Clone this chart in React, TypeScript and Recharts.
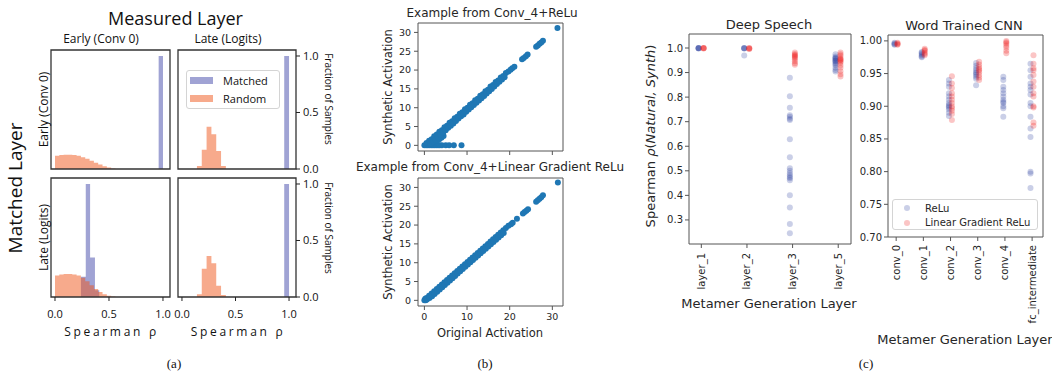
import React from 'react';
import {
  ComposedChart,
  ScatterChart,
  Area,
  Scatter,
  XAxis,
  YAxis,
  ReferenceArea,
  Legend,
} from 'recharts';

// ---------- fonts / colours ----------
const SANS_A = '"Open Sans", "Noto Sans", sans-serif';
const SANS = '"DejaVu Sans", sans-serif';
const SERIF = '"Liberation Serif", serif';
const INK = '#262626';
const FRAME_A = '#333';
const FRAME = '#555';

const MATCHED = '#4148a9';
const RANDOM = '#ef551a';
const HIST_LEGEND = ['Matched', 'Random'];
const HIST_COLORS = [MATCHED, RANDOM];

const SCATTER_BLUE = '#1f77b4';
const RELU = '#2c3fa0';
const LIN = '#f01818';
const STRIP_LEGEND = ['ReLu', 'Linear Gradient ReLu'];
const STRIP_COLORS = [RELU, LIN];

// ---------- (a) histograms of Spearman rho ----------
const HIST_X: [number, number] = [-0.037, 1.065];
const HIST_Y: [number, number] = [0, 1.053];
const HIST_TICKS = [0, 0.5, 1.0];

// matched early, measured early
const eeMatchedEdges = [0.96, 1.0];
const eeMatchedHeights = [1.0];
const eeRandomEdges = [0, 0.04, 0.08, 0.12, 0.16, 0.2, 0.24, 0.28, 0.32, 0.36, 0.4, 0.44, 0.48, 0.52, 0.56];
const eeRandomHeights = [0.118, 0.124, 0.127, 0.127, 0.124, 0.117, 0.105, 0.09, 0.072, 0.055, 0.04, 0.025, 0.013, 0.005];

// matched early, measured late
const elMatchedEdges = [0.955, 1.0];
const elMatchedHeights = [1.0];
const elRandomEdges = [0.14, 0.185, 0.23, 0.275, 0.32, 0.365, 0.41];
const elRandomHeights = [0.027, 0.17, 0.374, 0.307, 0.16, 0.027];

// matched late, measured early
const leMatchedEdges = [0.24, 0.285, 0.325, 0.37, 0.41];
const leMatchedHeights = [0.18, 1.0, 0.35, 0.06];
const leRandomEdges = [0, 0.04, 0.08, 0.12, 0.16, 0.2, 0.24, 0.28, 0.32, 0.36, 0.4, 0.44, 0.48, 0.52, 0.56];
const leRandomHeights = [0.19, 0.2, 0.203, 0.203, 0.2, 0.19, 0.17, 0.14, 0.105, 0.07, 0.045, 0.025, 0.012, 0.005];

// matched late, measured late
const llMatchedEdges = [0.955, 1.0];
const llMatchedHeights = [1.0];
const llRandomEdges = [0.14, 0.185, 0.23, 0.275, 0.32, 0.365, 0.41];
const llRandomHeights = [0.024, 0.25, 0.363, 0.298, 0.1, 0.018];

// ---------- (b) activation scatter ----------
const B_DOM: [number, number] = [-1.5, 32.5];
const B_XTICKS = [0, 10, 20, 30];
const B_YTICKS = [0, 5, 10, 15, 20, 25, 30];

const reluPoints: [number, number][] = [
  [0, 0], [0.4, 0], [0.8, 0], [1.2, 0], [1.6, 0], [2.0, 0], [2.4, 0], [2.8, 0], [3.2, 0], [3.6, 0],
  [4.1, 0], [5.0, 0], [5.8, 0], [6.9, 0], [8.7, 0],
  [1.0, 0.3], [1.5, 0.6], [2.0, 0.8], [2.5, 1.0], [3.0, 1.3], [3.5, 1.6], [4.0, 2.0], [4.5, 2.5],
  [0.5, 0.6], [1.1, 1.2], [1.7, 1.6], [2.3, 2.4], [2.9, 2.9], [3.5, 3.6], [4.1, 4.0], [4.7, 4.8],
  [5.3, 5.2], [5.9, 6.0], [6.5, 6.4], [7.1, 7.2], [7.7, 7.6], [8.3, 8.4], [8.9, 8.8], [9.5, 9.6],
  [10.1, 10.0], [10.7, 10.8], [11.3, 11.2], [11.9, 12.0], [12.5, 12.4], [13.1, 13.2], [13.7, 13.6],
  [14.3, 14.4], [14.9, 14.8], [15.5, 15.6], [16.1, 16.0], [16.7, 16.8], [17.3, 17.2], [17.9, 18.0],
  [18.5, 18.4], [19.1, 19.2], [19.7, 19.6],
  [1.4, 0.5], [2.0, 1.0], [2.6, 1.5], [3.2, 2.1], [3.8, 2.8], [4.4, 3.4], [5.0, 4.0], [5.6, 4.7],
  [6.2, 5.2], [6.8, 5.8], [7.4, 6.5], [8.0, 7.1], [8.6, 7.7], [9.2, 8.2], [9.8, 8.9], [10.4, 9.5],
  [11.0, 10.1], [11.6, 10.7], [12.2, 11.3], [12.8, 11.9], [13.4, 12.5], [14.0, 13.1], [14.6, 13.8],
  [15.2, 14.4], [15.8, 15.0], [16.4, 15.6], [17.0, 16.3], [17.6, 16.9], [18.2, 17.5], [18.8, 18.1],
  [20.2, 20.1], [20.6, 20.5], [21.1, 20.9], [22.9, 22.9], [23.3, 23.2], [23.8, 23.7], [24.2, 24.1],
  [26.2, 26.2], [26.6, 26.5], [27.0, 27.0], [27.4, 27.3], [27.8, 27.8], [31.2, 31.2],
];

const linGradPoints: [number, number][] = [
  [0, 0], [0.3, 0], [0.6, 0.2], [0.2, 0.4],
  [0.5, 0.6], [1.1, 1.2], [1.7, 1.8], [2.3, 2.4], [2.9, 3.0], [3.5, 3.6], [4.1, 4.2], [4.7, 4.8],
  [5.3, 5.4], [5.9, 6.0], [6.5, 6.6], [7.1, 7.2], [7.7, 7.8], [8.3, 8.4], [8.9, 9.0], [9.5, 9.6],
  [10.1, 10.2], [10.7, 10.8], [11.3, 11.4], [11.9, 12.0], [12.5, 12.6], [13.1, 13.2], [13.7, 13.8],
  [14.3, 14.4], [14.9, 15.0], [15.5, 15.6], [16.1, 16.2], [16.7, 16.8], [17.3, 17.4], [17.9, 18.0],
  [18.5, 18.6], [19.1, 19.2], [19.7, 19.8],
  [1.2, 0.6], [1.8, 1.1], [2.4, 1.7], [3.0, 2.3], [3.6, 2.9], [4.2, 3.5], [4.8, 4.1], [5.4, 4.7],
  [6.0, 5.3], [6.6, 5.9], [7.2, 6.5], [7.8, 7.1], [8.4, 7.7], [9.0, 8.3], [9.6, 8.9], [10.2, 9.5],
  [10.8, 10.1], [11.4, 10.7], [12.0, 11.3], [12.6, 11.9], [13.2, 12.5], [13.8, 13.1], [14.4, 13.7],
  [15.0, 14.3], [15.6, 14.9], [16.2, 15.5], [16.8, 16.1], [17.4, 16.7], [18.0, 17.3], [18.6, 17.9],
  [20.3, 20.2], [20.7, 20.6], [21.7, 21.7], [23.1, 23.1], [23.5, 23.5], [23.9, 23.8], [24.3, 24.2],
  [26.2, 26.2], [26.6, 26.6], [27.0, 27.0], [27.4, 27.4], [27.8, 27.9], [31.3, 31.3],
];

// ---------- (c) strip plots ----------
const DS_LAYERS = ['layer_1', 'layer_2', 'layer_3', 'layer_5'];
const dsReluL1 = [1.0, 0.999, 0.998, 1.0, 0.999];
const dsReluL2 = [1.0, 0.999, 0.998, 0.969, 0.999];
const dsReluL3 = [0.879, 0.804, 0.757, 0.726, 0.72, 0.712, 0.707, 0.628, 0.555, 0.51, 0.5, 0.49, 0.482, 0.475, 0.47, 0.462, 0.4, 0.351, 0.283, 0.246];
const dsReluL5 = [0.975, 0.965, 0.96, 0.955, 0.95, 0.945, 0.94, 0.935, 0.93, 0.92, 0.91, 0.904, 0.958, 0.948];
const dsLinL1 = [1.0, 0.999, 0.998, 1.0];
const dsLinL2 = [0.999, 0.997, 0.996, 1.0];
const dsLinL3 = [0.982, 0.976, 0.972, 0.968, 0.964, 0.96, 0.954, 0.946, 0.938, 0.932];
const dsLinL5 = [0.982, 0.975, 0.968, 0.96, 0.955, 0.95, 0.945, 0.94, 0.93, 0.92, 0.905, 0.893, 0.884, 0.952];

const CNN_LAYERS = ['conv_0', 'conv_1', 'conv_2', 'conv_3', 'conv_4', 'fc_intermediate'];
const cnnReluC0 = [0.995, 0.996, 0.997, 0.994];
const cnnReluC1 = [0.983, 0.98, 0.978, 0.976, 0.975, 0.982];
const cnnReluC2 = [0.94, 0.935, 0.93, 0.92, 0.915, 0.91, 0.905, 0.902, 0.9, 0.898, 0.895, 0.89, 0.885];
const cnnReluC3 = [0.966, 0.962, 0.958, 0.955, 0.952, 0.95, 0.948, 0.945, 0.942, 0.932];
const cnnReluC4 = [0.945, 0.94, 0.93, 0.925, 0.92, 0.915, 0.91, 0.907, 0.905, 0.9, 0.897, 0.884];
const cnnReluFc = [0.965, 0.955, 0.945, 0.935, 0.93, 0.925, 0.918, 0.905, 0.9, 0.884, 0.866, 0.853, 0.8, 0.797, 0.775];
const cnnLinC0 = [0.996, 0.994, 0.997, 0.995];
const cnnLinC1 = [0.988, 0.985, 0.982, 0.98, 0.978, 0.986];
const cnnLinC2 = [0.946, 0.935, 0.928, 0.92, 0.915, 0.91, 0.905, 0.9, 0.897, 0.893, 0.888, 0.879];
const cnnLinC3 = [0.968, 0.964, 0.96, 0.957, 0.955, 0.952, 0.948, 0.944, 0.94];
const cnnLinC4 = [1.0, 0.998, 0.996, 0.993, 0.99, 0.985, 0.981];
const cnnLinFc = [0.978, 0.965, 0.958, 0.955, 0.948, 0.938, 0.93, 0.92, 0.915, 0.9, 0.898, 0.875, 0.87];

const DS_TICKS = [0.3, 0.4, 0.5, 0.6, 0.7, 0.8, 0.9, 1.0];
const CNN_TICKS = [0.7, 0.75, 0.8, 0.85, 0.9, 0.95, 1.0];

// ---------- helpers ----------
interface Box { x: number; y: number; w: number; h: number }
interface Pads { l: number; r: number; t: number; b: number }

// wrapper so that the chart's plot area lands on `box`
const Placed: React.FC<{ box: Box; pads: Pads; children: React.ReactNode }> = ({ box, pads, children }) => (
  <div
    style={{
      position: 'absolute',
      left: box.x - pads.l,
      top: box.y - pads.t,
      width: box.w + pads.l + pads.r,
      height: box.h + pads.t + pads.b,
    }}
  >
    {children}
  </div>
);

const binValue = (edges: number[], heights: number[], x: number) => {
  for (let i = 0; i < heights.length; i++) {
    if (x >= edges[i] - 1e-9 && x < edges[i + 1] - 1e-9) return heights[i];
  }
  return 0;
};

// merge two histograms into one table of step points
const histTable = (mE: number[], mH: number[], rE: number[], rH: number[]) => {
  const xs = Array.from(new Set([...mE, ...rE])).sort((a, b) => a - b);
  return xs.map((x) => ({ x, matched: binValue(mE, mH, x), random: binValue(rE, rH, x) }));
};

const stripData = (groups: number[][], shift: number) =>
  groups.flatMap((vals, i) => vals.map((v) => ({ x: i + shift, y: v })));

const HistLegend = () => (
  <div
    style={{
      position: 'relative',
      width: 94,
      height: 39,
      boxSizing: 'border-box',
      border: '1px solid #d4d4d4',
      borderRadius: 3,
      background: 'rgba(255,255,255,0.85)',
      fontFamily: SANS_A,
      fontSize: 11,
      color: '#111',
    }}
  >
    {HIST_LEGEND.map((name, i) => (
      <div key={name} style={{ position: 'absolute', left: 3, top: 2 + i * 18.5, height: 14, display: 'flex', alignItems: 'center' }}>
        <span style={{ display: 'inline-block', width: 23, height: 7, background: HIST_COLORS[i], opacity: 0.5 }} />
        <span style={{ marginLeft: 10 }}>{name}</span>
      </div>
    ))}
  </div>
);

const StripLegend = () => (
  <div
    style={{
      position: 'relative',
      width: 146,
      height: 31,
      boxSizing: 'border-box',
      border: '1px solid #d4d4d4',
      borderRadius: 3,
      background: 'rgba(255,255,255,0.85)',
      fontFamily: SANS,
      fontSize: 10,
      color: INK,
    }}
  >
    {STRIP_LEGEND.map((name, i) => (
      <div key={name} style={{ position: 'absolute', left: 11, top: 1 + i * 14.7, height: 14, display: 'flex', alignItems: 'center' }}>
        <span style={{ display: 'inline-block', width: 6, height: 6, borderRadius: 3, background: STRIP_COLORS[i], opacity: 0.25 }} />
        <span style={{ marginLeft: 15 }}>{name}</span>
      </div>
    ))}
  </div>
);

// ---------- (a) one histogram cell ----------
interface HistProps {
  box: Box;
  mE: number[];
  mH: number[];
  rE: number[];
  rH: number[];
  showX?: boolean;
  showY?: boolean;
  legend?: boolean;
}

const HistCell: React.FC<HistProps> = ({ box, mE, mH, rE, rH, showX, showY, legend }) => {
  const yW = showY ? 34 : 0;
  const xH = showX ? 24 : 0;
  const pads = { l: 8, t: 8, r: 8 + yW, b: 8 + xH };
  const tickStyle = { fontSize: 11, fill: '#111', fontFamily: SANS_A };
  return (
    <Placed box={box} pads={pads}>
      <ComposedChart
        width={box.w + pads.l + pads.r}
        height={box.h + pads.t + pads.b}
        data={histTable(mE, mH, rE, rH)}
        margin={{ top: 8, left: 8, right: 8, bottom: 8 }}
      >
        <XAxis
          dataKey="x"
          type="number"
          domain={HIST_X}
          allowDataOverflow
          ticks={HIST_TICKS}
          interval={0}
          tickFormatter={(v: number) => v.toFixed(1)}
          hide={!showX}
          height={xH}
          axisLine={false}
          tickSize={4}
          tickMargin={9}
          tickLine={{ stroke: '#222' }}
          tick={tickStyle}
        />
        <YAxis
          orientation="right"
          type="number"
          domain={HIST_Y}
          allowDataOverflow
          ticks={HIST_TICKS}
          interval={0}
          tickFormatter={(v: number) => v.toFixed(1)}
          hide={!showY}
          width={yW}
          axisLine={false}
          tickSize={4}
          tickMargin={3}
          tickLine={{ stroke: '#222' }}
          tick={tickStyle}
        />
        <Area type="stepAfter" dataKey="matched" stroke="none" fill={MATCHED} fillOpacity={0.5} isAnimationActive={false} />
        <Area type="stepAfter" dataKey="random" stroke="none" fill={RANDOM} fillOpacity={0.5} isAnimationActive={false} />
        <ReferenceArea
          x1={HIST_X[0]}
          x2={HIST_X[1]}
          y1={HIST_Y[0]}
          y2={HIST_Y[1]}
          fill="none"
          stroke={FRAME_A}
          strokeWidth={1.3}
          ifOverflow="visible"
        />
        {legend && (
          <Legend
            layout="vertical"
            align="center"
            verticalAlign="middle"
            content={() => <HistLegend />}
            wrapperStyle={{ left: pads.l + 8, top: pads.t + 20, width: 94, height: 39 }}
          />
        )}
      </ComposedChart>
    </Placed>
  );
};

// ---------- (b) one activation scatter ----------
const ActivationPlot: React.FC<{ box: Box; points: [number, number][]; showXLabels?: boolean }> = ({
  box,
  points,
  showXLabels,
}) => {
  const yW = 30;
  const xH = showXLabels ? 20 : 8;
  const pads = { l: 4 + yW, r: 6, t: 4, b: 4 + xH };
  const tickStyle = { fontSize: 9.5, fill: INK, fontFamily: SANS };
  return (
    <Placed box={box} pads={pads}>
      <ScatterChart
        width={box.w + pads.l + pads.r}
        height={box.h + pads.t + pads.b}
        margin={{ top: 4, right: 6, bottom: 4, left: 4 }}
      >
        <XAxis
          type="number"
          dataKey="x"
          domain={B_DOM}
          allowDataOverflow
          ticks={B_XTICKS}
          interval={0}
          height={xH}
          axisLine={false}
          tickSize={4}
          tickMargin={3}
          tickLine={{ stroke: FRAME }}
          tickFormatter={(v: number) => (showXLabels ? String(v) : '')}
          tick={tickStyle}
        />
        <YAxis
          type="number"
          dataKey="y"
          domain={B_DOM}
          allowDataOverflow
          ticks={B_YTICKS}
          interval={0}
          width={yW}
          axisLine={false}
          tickSize={4}
          tickMargin={3}
          tickLine={{ stroke: FRAME }}
          tick={tickStyle}
        />
        <ReferenceArea x1={B_DOM[0]} x2={B_DOM[1]} y1={B_DOM[0]} y2={B_DOM[1]} fill="none" stroke={FRAME} strokeWidth={1} ifOverflow="visible" />
        <Scatter
          data={points.map(([x, y]) => ({ x, y }))}
          isAnimationActive={false}
          shape={(p: any) => <circle cx={p.cx} cy={p.cy} r={3} fill={SCATTER_BLUE} />}
        />
      </ScatterChart>
    </Placed>
  );
};

// ---------- (c) one strip plot ----------
interface StripProps {
  box: Box;
  categories: string[];
  relu: number[][];
  lin: number[][];
  xDomain: [number, number];
  yDomain: [number, number];
  yTicks: number[];
  digits: number;
  tickGap: number;
  legend?: boolean;
}

const StripPlot: React.FC<StripProps> = ({ box, categories, relu, lin, xDomain, yDomain, yTicks, digits, tickGap, legend }) => {
  const yW = 40;
  const xH = 100;
  const pads = { l: 4 + yW, r: 6, t: 4, b: 4 + xH };
  const dot = (color: string) => (p: any) => <circle cx={p.cx} cy={p.cy} r={3} fill={color} fillOpacity={0.25} />;
  const catTick = (p: any) => (
    <text
      x={p.x}
      y={p.y}
      transform={`rotate(-90 ${p.x} ${p.y})`}
      textAnchor="end"
      dominantBaseline="central"
      fontSize={10}
      fontFamily={SANS}
      fill={INK}
    >
      {categories[Math.round(p.payload.value)]}
    </text>
  );
  return (
    <Placed box={box} pads={pads}>
      <ScatterChart
        width={box.w + pads.l + pads.r}
        height={box.h + pads.t + pads.b}
        margin={{ top: 4, right: 6, bottom: 4, left: 4 }}
      >
        <XAxis
          type="number"
          dataKey="x"
          domain={xDomain}
          allowDataOverflow
          ticks={categories.map((_, i) => i)}
          interval={0}
          height={xH}
          axisLine={false}
          tickSize={4}
          tickMargin={tickGap}
          tickLine={{ stroke: FRAME }}
          tick={catTick}
        />
        <YAxis
          type="number"
          dataKey="y"
          domain={yDomain}
          allowDataOverflow
          ticks={yTicks}
          interval={0}
          width={yW}
          axisLine={false}
          tickSize={4}
          tickMargin={2}
          tickLine={{ stroke: FRAME }}
          tickFormatter={(v: number) => v.toFixed(digits)}
          tick={{ fontSize: 10, fill: INK, fontFamily: SANS }}
        />
        <ReferenceArea x1={xDomain[0]} x2={xDomain[1]} y1={yDomain[0]} y2={yDomain[1]} fill="none" stroke={FRAME} strokeWidth={1} ifOverflow="visible" />
        <Scatter name="ReLu" data={stripData(relu, -0.06)} isAnimationActive={false} shape={dot(RELU)} />
        <Scatter name="Linear Gradient ReLu" data={stripData(lin, 0.05)} isAnimationActive={false} shape={dot(LIN)} />
        {legend && (
          <Legend
            layout="vertical"
            align="center"
            verticalAlign="middle"
            content={() => <StripLegend />}
            wrapperStyle={{ left: pads.l + 4, top: pads.t + 164, width: 146, height: 31 }}
          />
        )}
      </ScatterChart>
    </Placed>
  );
};

// ---------- figure-level text ----------
const FigureText = () => (
  <svg width={1052} height={372} style={{ position: 'absolute', left: 0, top: 0, pointerEvents: 'none' }}>
    {/* (a) */}
    <g fontFamily={SANS_A} fill="#111">
      <text x={175.5} y={25} fontSize={18} textAnchor="middle">Measured Layer</text>
      <text x={101} y={43} fontSize={12} textAnchor="middle">Early (Conv 0)</text>
      <text x={228} y={43} fontSize={12} textAnchor="middle">Late (Logits)</text>
      <text transform="translate(22,188) rotate(-90)" fontSize={19} textAnchor="middle">Matched Layer</text>
      <text transform="translate(48,109.5) rotate(-90)" fontSize={12} textAnchor="middle">Early (Conv 0)</text>
      <text transform="translate(48,237.5) rotate(-90)" fontSize={12} textAnchor="middle">Late (Logits)</text>
      <text transform="translate(324.5,99) rotate(90)" fontSize={10} textAnchor="middle">Fraction of Samples</text>
      <text transform="translate(324.5,228) rotate(90)" fontSize={10} textAnchor="middle">Fraction of Samples</text>
      <text x={111.5} y={336} fontSize={12} letterSpacing={2.7} textAnchor="middle">Spearman ρ</text>
      <text x={238} y={336} fontSize={12} letterSpacing={2.7} textAnchor="middle">Spearman ρ</text>
    </g>
    {/* (b) */}
    <g fontFamily={SANS} fill={INK}>
      <text x={492} y={17} fontSize={12} textAnchor="middle">Example from Conv_4+ReLu</text>
      <text x={490} y={171} fontSize={12} textAnchor="middle">Example from Conv_4+Linear Gradient ReLu</text>
      <text transform="translate(392,87) rotate(-90)" fontSize={11.5} textAnchor="middle">Synthetic Activation</text>
      <text transform="translate(392,242) rotate(-90)" fontSize={11.5} textAnchor="middle">Synthetic Activation</text>
      <text x={490} y={337} fontSize={11.5} textAnchor="middle">Original Activation</text>
    </g>
    {/* (c) */}
    <g fontFamily={SANS} fill={INK}>
      <text x={769} y={29} fontSize={13} textAnchor="middle">Deep Speech</text>
      <text x={964} y={29.5} fontSize={13} textAnchor="middle">Word Trained CNN</text>
      <text transform="translate(655,136) rotate(-90)" fontSize={13} textAnchor="middle">
        Spearman <tspan fontStyle="italic">ρ</tspan>(<tspan fontStyle="italic">Natural, Synth</tspan>)
      </text>
      <text x={769} y={307.5} fontSize={13} textAnchor="middle">Metamer Generation Layer</text>
      <text x={965} y={344} fontSize={13} textAnchor="middle">Metamer Generation Layer</text>
    </g>
    <g fontFamily={SERIF} fill="#111" fontSize={13} textAnchor="middle">
      <text x={174} y={368}>(a)</text>
      <text x={485} y={368}>(b)</text>
      <text x={866} y={368}>(c)</text>
    </g>
  </svg>
);

const App: React.FC = () => (
  <div style={{ position: 'fixed', left: 0, top: 0, width: 1052, height: 372, background: '#fff', overflow: 'hidden' }}>
    <HistCell box={{ x: 51, y: 50, w: 119, h: 119 }} mE={eeMatchedEdges} mH={eeMatchedHeights} rE={eeRandomEdges} rH={eeRandomHeights} />
    <HistCell box={{ x: 178, y: 50, w: 118, h: 119 }} mE={elMatchedEdges} mH={elMatchedHeights} rE={elRandomEdges} rH={elRandomHeights} showY legend />
    <HistCell box={{ x: 51, y: 178, w: 119, h: 119 }} mE={leMatchedEdges} mH={leMatchedHeights} rE={leRandomEdges} rH={leRandomHeights} showX />
    <HistCell box={{ x: 178, y: 178, w: 118, h: 119 }} mE={llMatchedEdges} mH={llMatchedHeights} rE={llRandomEdges} rH={llRandomHeights} showX showY />

    <ActivationPlot box={{ x: 418, y: 23, w: 145, h: 128 }} points={reluPoints} />
    <ActivationPlot box={{ x: 418, y: 178, w: 145, h: 128 }} points={linGradPoints} showXLabels />

    <StripPlot
      box={{ x: 689, y: 34, w: 162, h: 210 }}
      categories={DS_LAYERS}
      relu={[dsReluL1, dsReluL2, dsReluL3, dsReluL5]}
      lin={[dsLinL1, dsLinL2, dsLinL3, dsLinL5]}
      xDomain={[-0.27, 3.28]}
      yDomain={[0.202, 1.057]}
      yTicks={DS_TICKS}
      digits={1}
      tickGap={5}
    />
    <StripPlot
      box={{ x: 888, y: 35, w: 155, h: 202 }}
      categories={CNN_LAYERS}
      relu={[cnnReluC0, cnnReluC1, cnnReluC2, cnnReluC3, cnnReluC4, cnnReluFc]}
      lin={[cnnLinC0, cnnLinC1, cnnLinC2, cnnLinC3, cnnLinC4, cnnLinFc]}
      xDomain={[-0.3, 5.4]}
      yDomain={[0.7, 1.009]}
      yTicks={CNN_TICKS}
      digits={2}
      tickGap={4}
      legend
    />

    <FigureText />
  </div>
);

export default App;
